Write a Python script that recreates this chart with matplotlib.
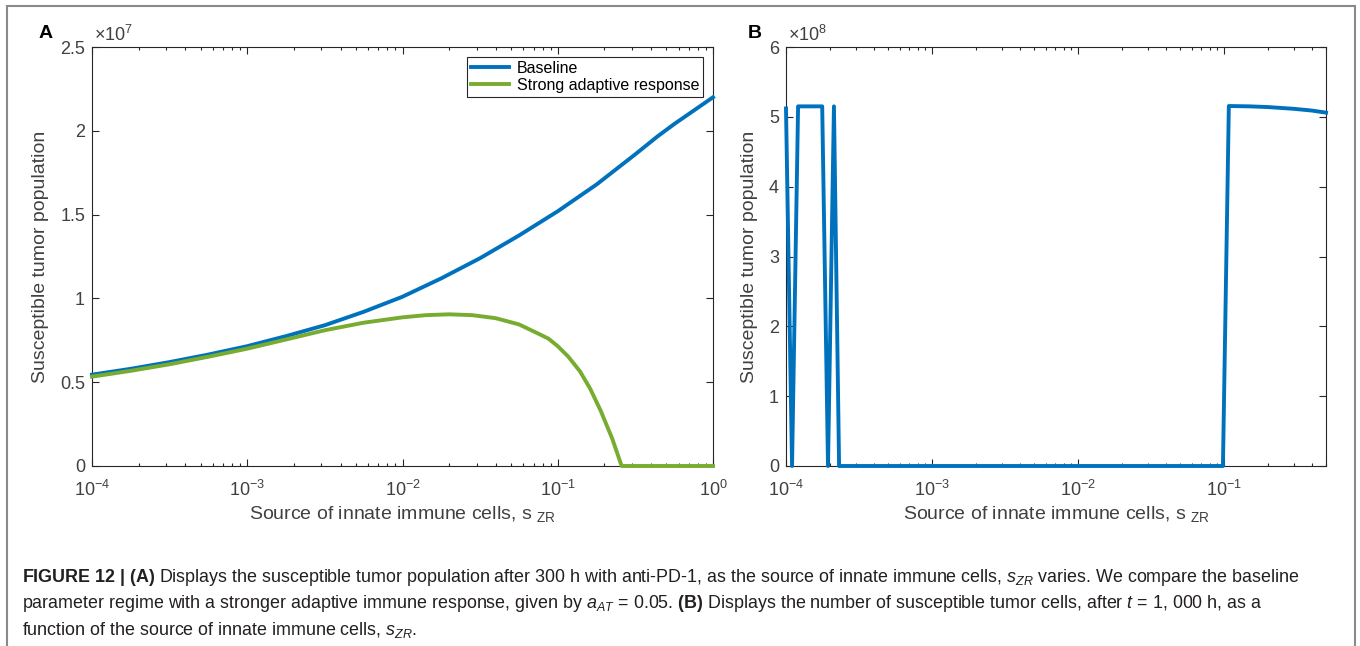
import matplotlib
matplotlib.use('Agg')
import matplotlib.pyplot as plt
from matplotlib import font_manager
from matplotlib.patches import Rectangle
from matplotlib.ticker import FixedLocator, FormatStrFormatter

# Panel A: susceptible tumor population after 300 h (units of 1e7)
szr_a = [1.00e-4, 1.78e-4, 3.16e-4, 5.62e-4, 1.00e-3, 1.78e-3, 3.16e-3, 5.62e-3,
         1.00e-2, 1.78e-2, 3.16e-2, 5.62e-2, 1.00e-1, 1.78e-1, 3.16e-1, 4.37e-1,
         5.62e-1, 1.0]
baseline_a = [0.545, 0.58, 0.62, 0.665, 0.715, 0.775, 0.84, 0.92,
              1.01, 1.12, 1.24, 1.375, 1.52, 1.68, 1.86, 1.965,
              2.04, 2.20]

szr_strong = [1.00e-4, 1.78e-4, 3.16e-4, 5.62e-4, 1.00e-3, 1.78e-3, 3.16e-3, 5.62e-3,
              1.00e-2, 1.41e-2, 2.00e-2, 2.82e-2, 3.98e-2, 5.62e-2, 7.41e-2, 8.71e-2,
              1.00e-1, 1.17e-1, 1.39e-1, 1.62e-1, 1.89e-1, 2.24e-1, 2.58e-1, 1.0]
strong_a = [0.533, 0.568, 0.607, 0.652, 0.70, 0.755, 0.81, 0.855,
            0.887, 0.90, 0.905, 0.90, 0.882, 0.845, 0.792, 0.76,
            0.715, 0.652, 0.565, 0.46, 0.33, 0.165, 0.0, 0.0]

# Panel B: susceptible tumor cells after 1000 h (units of 1e8)
szr_b = [1.00e-4, 1.10e-4, 1.21e-4, 1.77e-4, 1.94e-4, 2.13e-4, 2.31e-4,
         0.0984, 0.108, 0.15, 0.2, 0.3, 0.4, 0.5]
tumor_b = [5.12, 0.0, 5.15, 5.15, 0.0, 5.15, 0.0,
           0.0, 5.155, 5.15, 5.14, 5.115, 5.09, 5.06]

yticks_a = [0, 0.5, 1, 1.5, 2, 2.5]
yticks_b = [0, 1, 2, 3, 4, 5, 6]

BLUE = '#0072BD'
GREEN = '#77AC30'
AXCOL = '#262626'
TXTCOL = '#404040'

names = {f.name for f in font_manager.fontManager.ttflist}
narrow = 'Liberation Sans Narrow' if 'Liberation Sans Narrow' in names else 'Liberation Sans'

plt.rcParams['font.family'] = ['Liberation Sans', 'DejaVu Sans']
plt.rcParams['mathtext.fontset'] = 'custom'
plt.rcParams['mathtext.rm'] = narrow
plt.rcParams['mathtext.it'] = narrow + ':italic'
plt.rcParams['mathtext.bf'] = narrow + ':bold'


def StyleAxes(ax, xmax, ymax, yticks):
    ax.set_xscale('log')
    ax.set_xlim(1e-4, xmax)
    ax.set_ylim(0, ymax)
    ax.yaxis.set_major_locator(FixedLocator(yticks))
    ax.yaxis.set_major_formatter(FormatStrFormatter('%g'))
    for s in ax.spines.values():
        s.set_color(AXCOL)
        s.set_linewidth(0.8)
    ax.tick_params(which='both', direction='in', top=True, right=True,
                   color=AXCOL, labelcolor=TXTCOL, labelsize=13, width=0.8)
    ax.tick_params(which='major', length=5)
    ax.tick_params(which='minor', length=2.5)
    ax.tick_params(axis='y', pad=5)
    ax.tick_params(axis='x', pad=10)
    ax.set_xlabel(r'Source of innate immune cells, s $_{\mathdefault{ZR}}$',
                  fontsize=14, color=TXTCOL, labelpad=3)
    ax.set_ylabel('Susceptible tumor population', fontsize=14, color=TXTCOL, labelpad=8)


fig = plt.figure(figsize=(13.6, 6.46), dpi=100)
ax1 = fig.add_axes([92/1360, 1-466/646, (713-92)/1360, 419/646])
ax2 = fig.add_axes([786/1360, 1-466/646, (1326-786)/1360, 419/646])

ax1.plot(szr_a, baseline_a, color=BLUE, lw=2.8, label='Baseline', clip_on=False, zorder=3)
ax1.plot(szr_strong, strong_a, color=GREEN, lw=2.8, label='Strong adaptive response',
         clip_on=False, zorder=3)
StyleAxes(ax1, 1.0, 2.5, yticks_a)
leg = ax1.legend(loc='upper right', fontsize=11.5, frameon=True, fancybox=False,
                 edgecolor=AXCOL, framealpha=1, borderaxespad=0.6, handlelength=2.4,
                 borderpad=0.25, labelspacing=0.15, handletextpad=0.5)
leg.get_frame().set_linewidth(0.8)
leg.set_zorder(5)
ax1.text(0.003, 1.004, r'$\times\mathdefault{10^{7}}$', transform=ax1.transAxes,
         ha='left', va='bottom', fontsize=13, color=TXTCOL)

ax2.plot(szr_b, tumor_b, color=BLUE, lw=2.8, clip_on=False, zorder=3)
StyleAxes(ax2, 0.5, 6, yticks_b)
ax2.text(0.003, 1.004, r'$\times\mathdefault{10^{8}}$', transform=ax2.transAxes,
         ha='left', va='bottom', fontsize=13, color=TXTCOL)

fig.text(39/1360, 1-33/646, 'A', fontsize=14, weight='bold', va='center')
fig.text(748/1360, 1-33/646, 'B', fontsize=14, weight='bold', va='center')

# outer frame around figure + caption
fig.patches.append(Rectangle((7/1360, -0.05), (1355-7)/1360, 1.05-6/646,
                             transform=fig.transFigure, fill=False,
                             edgecolor='#8a8a8a', lw=1.5))

caption = [
    r"$\mathbf{FIGURE\ 12\ |\ (A)}$ Displays the susceptible tumor population after 300 h with anti-PD-1, "
    r"as the source of innate immune cells, $s_{ZR}$ varies. We compare the baseline",
    r"parameter regime with a stronger adaptive immune response, given by $a_{AT}$ = 0.05. "
    r"$\mathbf{(B)}$ Displays the number of susceptible tumor cells, after $t$ = 1, 000 h, as a",
    r"function of the source of innate immune cells, $s_{ZR}$.",
]
for i, line in enumerate(caption):
    fig.text(22/1360, 1-(578+26*i)/646, line, fontsize=12.9, family=narrow,
             color='#231f20', va='center', ha='left')

fig.savefig('out.png', dpi=100)
